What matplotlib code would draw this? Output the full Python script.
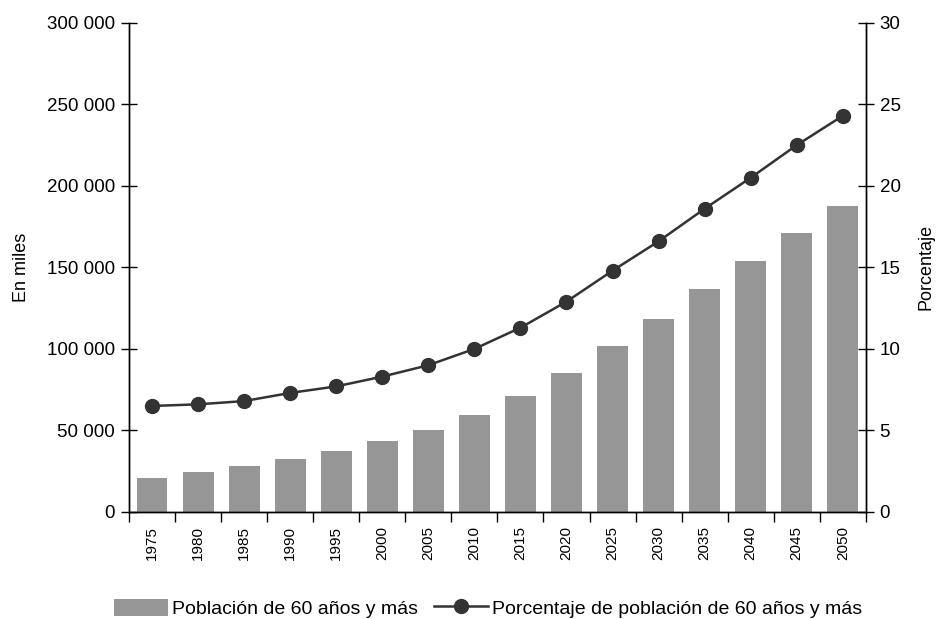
import matplotlib
matplotlib.use("Agg")
import matplotlib.pyplot as plt
import numpy as np
from matplotlib.ticker import FuncFormatter

plt.rcParams['font.family'] = ['Liberation Sans', 'DejaVu Sans']

years = ["1975", "1980", "1985", "1990", "1995", "2000", "2005", "2010",
         "2015", "2020", "2025", "2030", "2035", "2040", "2045", "2050"]
poblacion = [21000, 24500, 28000, 32500, 37500, 43500, 50300, 59500,
             71000, 85000, 102000, 118500, 136500, 154000, 171000, 187500]
porcentaje = [6.5, 6.6, 6.8, 7.3, 7.7, 8.3, 9.0, 10.0,
              11.3, 12.9, 14.8, 16.6, 18.6, 20.5, 22.5, 24.3]

fig = plt.figure(figsize=(9.37, 6.19), dpi=100)
ax = fig.add_axes([0.1377, 0.173, 0.7863, 0.790])
ax2 = ax.twinx()

x = np.arange(len(years))
bars = ax.bar(x, poblacion, width=0.67, color='#969696', zorder=2,
              label='Población de 60 años y más')
line, = ax2.plot(x, porcentaje, color='#333333', lw=1.8, marker='o', ms=10,
                 markerfacecolor='#333333', markeredgecolor='#333333',
                 label='Porcentaje de población de 60 años y más', zorder=3)

ax.set_xlim(-0.5, len(years) - 0.5)
ax.set_ylim(0, 300000)
ax2.set_ylim(0, 30)
ax.set_yticks(np.arange(0, 300001, 50000))
ax2.set_yticks(np.arange(0, 31, 5))
ax.yaxis.set_major_formatter(FuncFormatter(lambda v, p: f"{int(v):,}".replace(",", " ")))

ax.set_xticks(x)
ax.set_xticklabels(years, rotation=90, fontsize=11)
ax.tick_params(axis='x', which='major', length=0, pad=10)
ax.set_xticks(np.arange(-0.5, len(years), 1), minor=True)
ax.tick_params(axis='x', which='minor', length=7, direction='out', width=1)

ax.tick_params(axis='y', direction='inout', length=12, width=1, labelsize=13.5, pad=4)
ax2.tick_params(axis='y', direction='inout', length=12, width=1, labelsize=13.5, pad=4)

for a in (ax, ax2):
    a.spines['top'].set_visible(False)
    for s in ('left', 'right', 'bottom'):
        a.spines[s].set_linewidth(1.0)
        a.spines[s].set_color('black')

ax.set_ylabel('En miles', fontsize=13, labelpad=12)
ax2.set_ylabel('Porcentaje', fontsize=13, labelpad=12)

ax2.set_zorder(ax.get_zorder() + 1)
ax2.patch.set_visible(False)

fig.legend([bars, line], ['Población de 60 años y más',
                          'Porcentaje de población de 60 años y más'],
           loc='center', bbox_to_anchor=(0.521, 0.017), ncol=2, frameon=False,
           fontsize=14, handlelength=2.8, handleheight=1.0, handletextpad=0.2,
           columnspacing=0.8)

fig.savefig('out.png', dpi=100)
